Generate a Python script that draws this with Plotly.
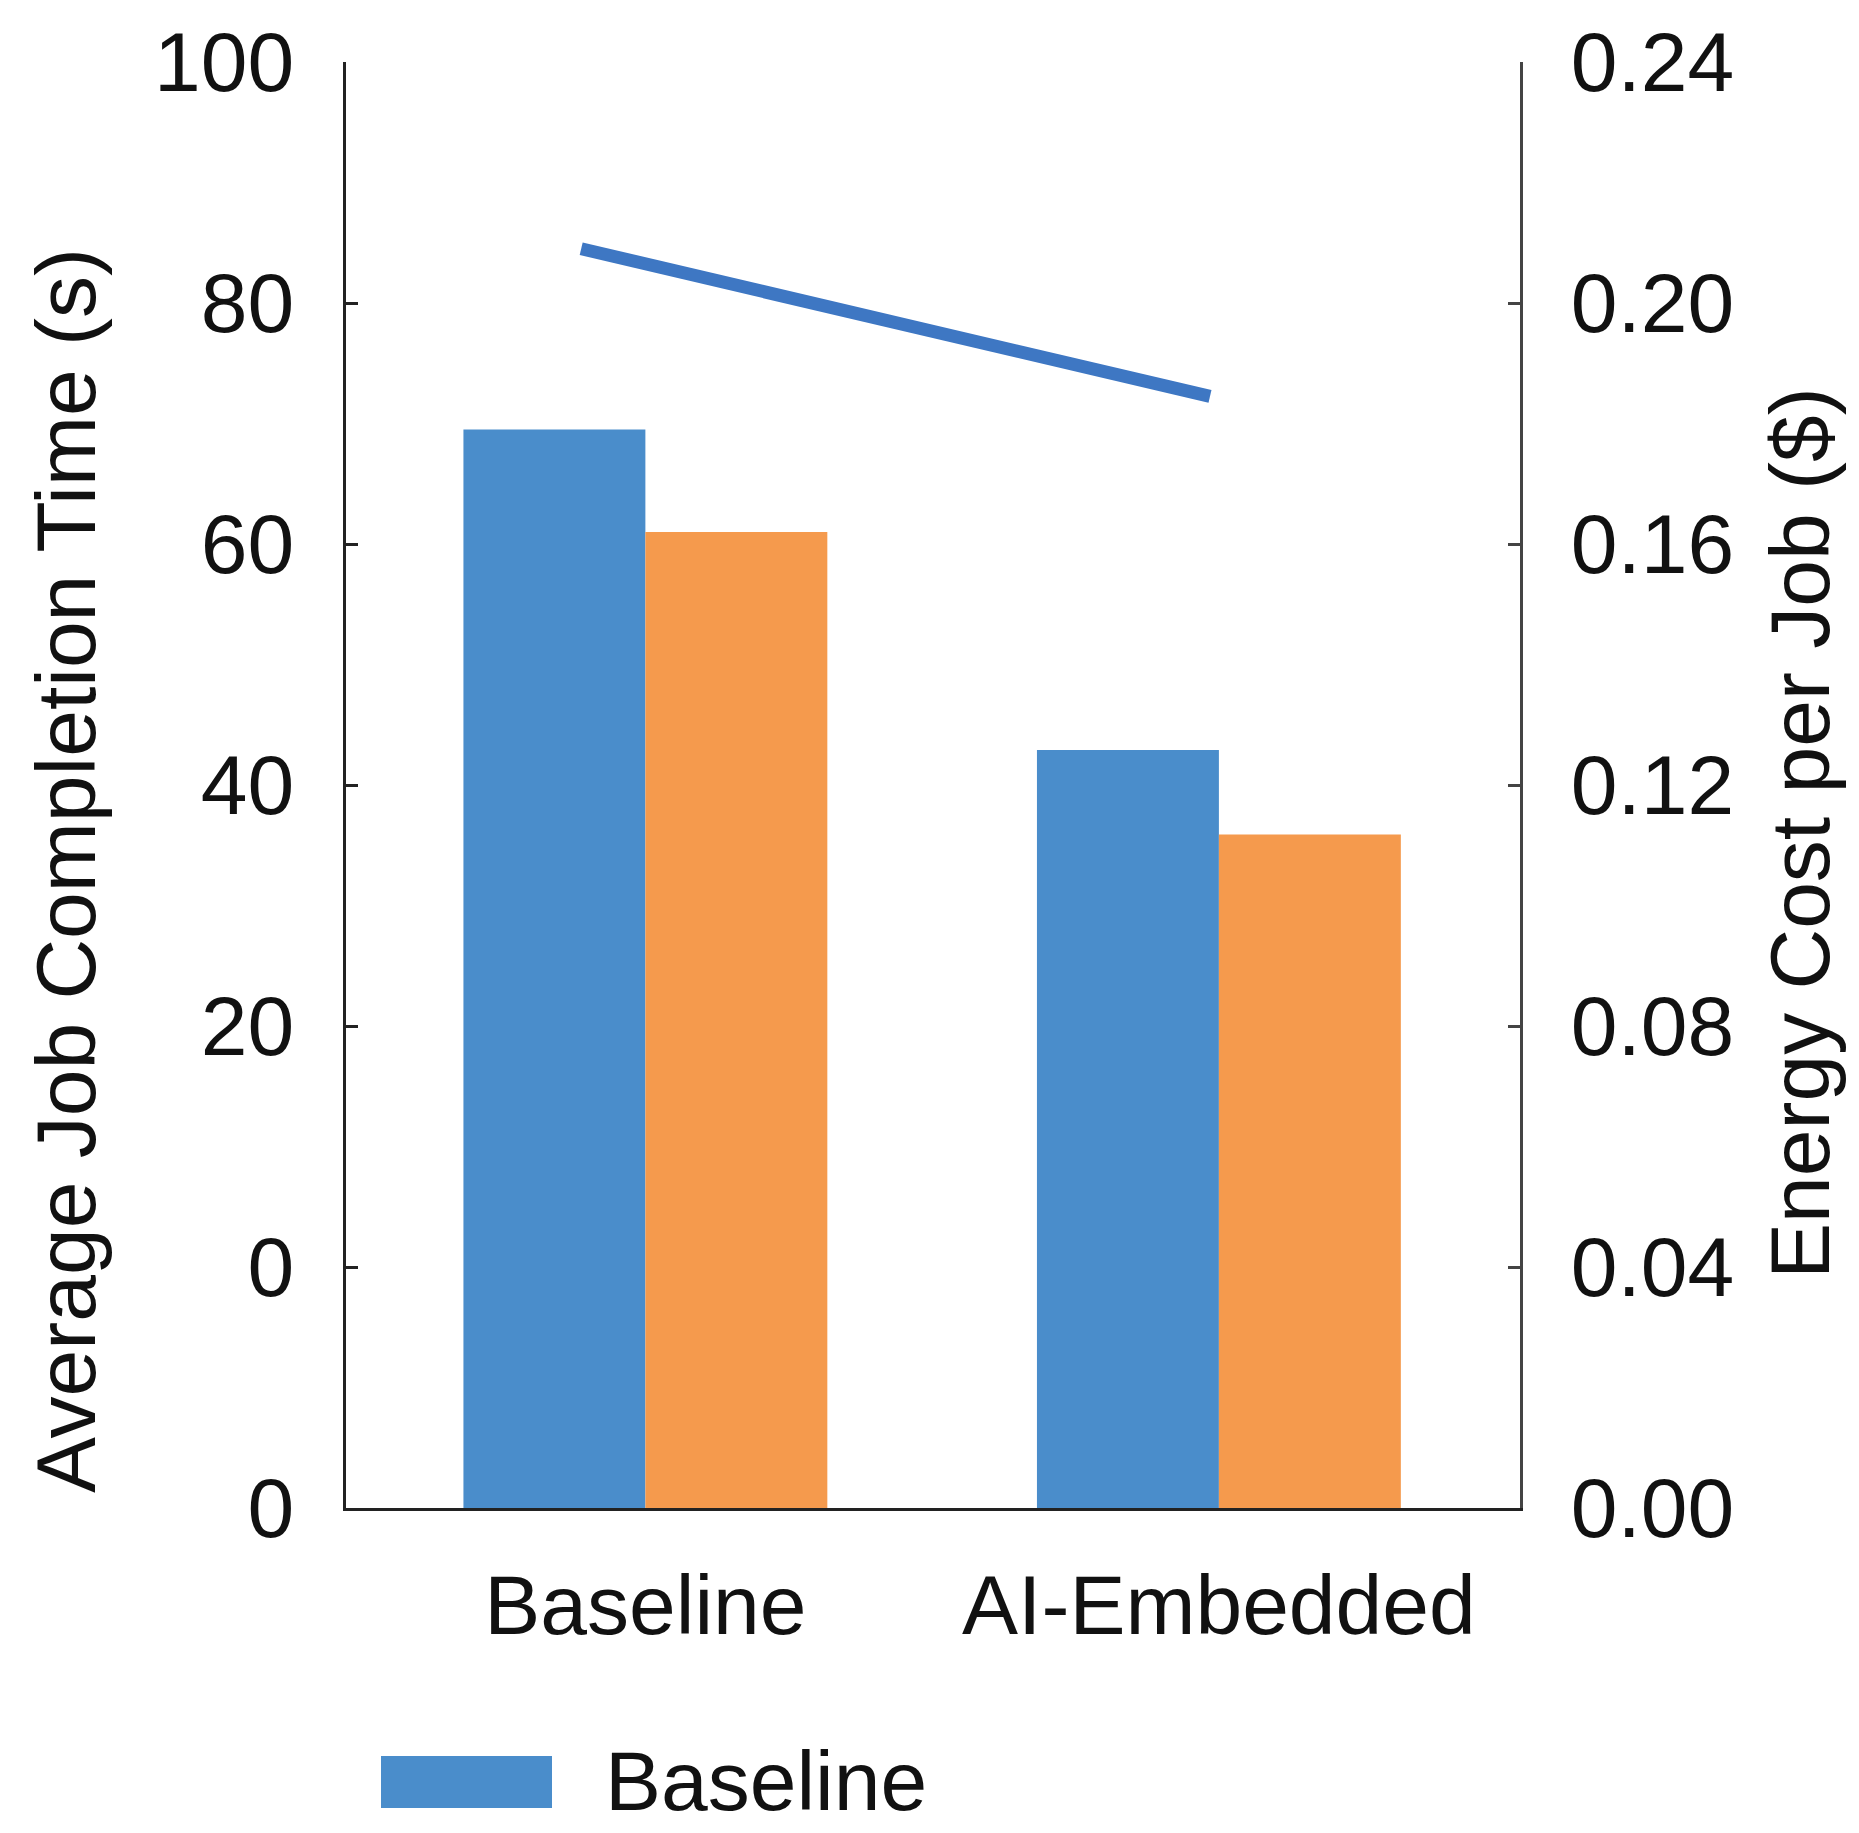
import plotly.graph_objects as go

# ---------------- data ----------------
categories = ["Baseline", "AI-Embedded"]
series_names = ["Baseline", "Optimized"]
completion_time_blue = [69.5, 42.9]      # Average Job Completion Time (s)
completion_time_orange = [61.0, 35.9]
energy_cost = [0.209, 0.1845]             # Energy Cost per Job ($)
energy_name = "Energy Cost"

left_tickvals = [-20, 0, 20, 40, 60, 80, 100]
left_ticktext = ["0", "0", "20", "40", "60", "80", "100"]
right_tickvals = [0.00, 0.04, 0.08, 0.12, 0.16, 0.20, 0.24]
right_ticktext = ["0.00", "0.04", "0.08", "0.12", "0.16", "0.20", "0.24"]

left_title = "Average Job Completion Time (s)"
right_title = "Energy Cost per Job ($)"

# ---------------- style / layout constants ----------------
W, H = 1859, 1833
L, R, T, B = 346, 339, 62, 325
PW, PH = W - L - R, H - T - B
AXIS_FLOOR = -20

BLUE = "#4A8DCB"
ORANGE = "#F59A4D"
LINE_BLUE = "#3E77C3"
FONT = "Liberation Sans, Arial, Helvetica, sans-serif"
TXT = "#111111"


def px_x(px):
    return (px - L) / PW


def px_y(py):
    return (H - B - py) / PH


fig = go.Figure()

fig.add_trace(go.Bar(
    x=categories,
    y=[v - AXIS_FLOOR for v in completion_time_blue],
    base=AXIS_FLOOR,
    name=series_names[0],
    marker=dict(color=BLUE, line=dict(width=0)),
    xaxis="x", yaxis="y",
    showlegend=False,
))
fig.add_trace(go.Bar(
    x=categories,
    y=[v - AXIS_FLOOR for v in completion_time_orange],
    base=AXIS_FLOOR,
    name=series_names[1],
    marker=dict(color=ORANGE, line=dict(width=0)),
    xaxis="x", yaxis="y",
    showlegend=False,
))
fig.add_trace(go.Scatter(
    x=categories,
    y=energy_cost,
    name=energy_name,
    mode="lines",
    line=dict(color=LINE_BLUE, width=13),
    xaxis="x2", yaxis="y2",
    showlegend=False,
))

fig.update_layout(
    width=W, height=H,
    margin=dict(l=L, r=R, t=T, b=B, pad=0),
    paper_bgcolor="white", plot_bgcolor="white",
    font=dict(family=FONT, color=TXT),
    barmode="group", bargap=0.3655, bargroupgap=0,
    showlegend=False,
    xaxis=dict(
        type="category", categoryarray=categories, categoryorder="array",
        range=[-0.522, 1.525], domain=[0, 1],
        showline=True, linecolor="#222222", linewidth=3,
        ticks="", showgrid=False, zeroline=False,
        tickfont=dict(size=84, family=FONT, color=TXT),
        ticklabelstandoff=22,
    ),
    xaxis2=dict(
        type="category", categoryarray=categories, categoryorder="array",
        range=[-0.374, 1.493], overlaying="x", visible=False,
    ),
    yaxis=dict(
        range=[AXIS_FLOOR, 100], tickvals=left_tickvals, ticktext=left_ticktext,
        ticks="inside", ticklen=12, tickwidth=3, tickcolor="#222222",
        showline=True, linecolor="#222222", linewidth=3,
        showgrid=False, zeroline=False,
        tickfont=dict(size=84, family=FONT, color=TXT),
        ticklabelstandoff=32,
    ),
    yaxis2=dict(
        range=[0, 0.24], tickvals=right_tickvals, ticktext=right_ticktext,
        overlaying="y", side="right", anchor="x2",
        ticks="inside", ticklen=12, tickwidth=3, tickcolor="#444444",
        showline=True, linecolor="#444444", linewidth=3,
        showgrid=False, zeroline=False,
        tickfont=dict(size=84, family=FONT, color=TXT),
        ticklabelstandoff=31,
    ),
)

# axis titles
fig.add_annotation(
    text=left_title, textangle=-90, showarrow=False,
    xref="paper", yref="paper", x=px_x(66), y=px_y(871),
    xanchor="center", yanchor="middle",
    font=dict(size=84, family=FONT, color=TXT),
)
fig.add_annotation(
    text=right_title, textangle=-90, showarrow=False,
    xref="paper", yref="paper", x=px_x(1800), y=px_y(833),
    xanchor="center", yanchor="middle",
    font=dict(size=84, family=FONT, color=TXT),
)

# legend (single entry, wide swatch)
fig.add_shape(
    type="rect", xref="paper", yref="paper",
    x0=px_x(381), x1=px_x(552), y0=px_y(1808), y1=px_y(1756),
    fillcolor=BLUE, line=dict(width=0),
)
fig.add_annotation(
    text=series_names[0], showarrow=False,
    xref="paper", yref="paper", x=px_x(603), y=px_y(1781),
    xanchor="left", yanchor="middle",
    font=dict(size=84, family=FONT, color=TXT),
)

fig.write_html(
    "out.html",
    config={"displayModeBar": False},
    post_script="document.body.style.margin='0';document.body.style.overflow='hidden';",
)
